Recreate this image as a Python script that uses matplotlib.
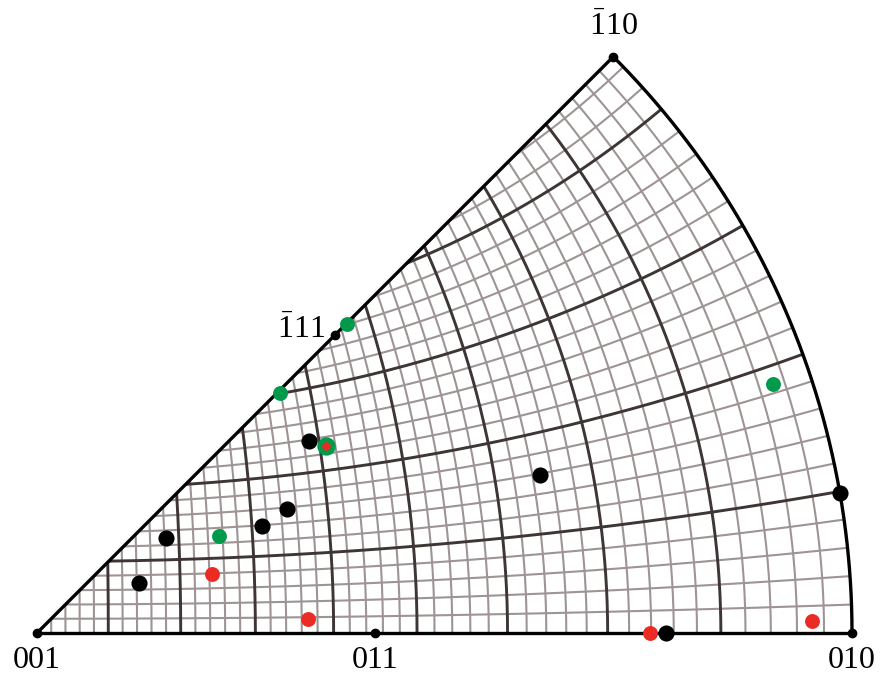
import numpy as np
import matplotlib.pyplot as plt
from matplotlib.path import Path
from matplotlib.patches import PathPatch

plt.rcParams['font.family'] = 'Liberation Serif'
plt.rcParams['mathtext.fontset'] = 'custom'
plt.rcParams['mathtext.rm'] = 'Liberation Serif'

# pole positions in the stereographic triangle (unit = primitive radius)
black_x = [0.334, 0.617, 0.307, 0.276, 0.158, 0.125, 0.772, 0.985]
black_y = [0.236, 0.194, 0.152, 0.131, 0.117, 0.061, 0.000, 0.172]

green_x = [0.380, 0.298, 0.223, 0.903]
green_y = [0.379, 0.295, 0.119, 0.306]

red_x = [0.215, 0.333, 0.752, 0.951]
red_y = [0.072, 0.017, 0.000, 0.015]

# red pole sitting inside a green ring
ring_x = [0.355]
ring_y = [0.229]

corner_labels = ['001', '011', '010', r'$\bar{1}$10', r'$\bar{1}$11']

# figure: 001 at pixel (37, 633), primitive radius 815 px
W, H = 882, 680
R = 815.0
fig = plt.figure(figsize=(W / 100, H / 100), dpi=100)
ax = fig.add_axes([0, 0, 1, 1])
ax.set_xlim(-37 / R, (W - 37) / R)
ax.set_ylim(-(H - 633) / R, 633 / R)
ax.set_aspect('equal')
ax.axis('off')

# sector 001 - 010 - -110
t = np.linspace(0, np.pi / 4, 200)
verts = [(0, 0)] + list(zip(np.cos(t), np.sin(t))) + [(0, 0)]
codes = [Path.MOVETO] + [Path.LINETO] * (len(verts) - 2) + [Path.CLOSEPOLY]
clip = PathPatch(Path(verts, codes), facecolor='none', edgecolor='none')
ax.add_patch(clip)

def wulff(lam, phi):
    lam = np.radians(lam)
    phi = np.radians(phi)
    d = 1 + np.cos(phi) * np.cos(lam)
    return np.cos(phi) * np.sin(lam) / d, np.sin(phi) / d

# Wulff net, 2 deg lines, every 10 deg darker
s = np.linspace(0, 90, 400)
for a in range(2, 90, 2):
    if a % 10 == 0:
        c, lw, z = '#3e3535', 2.1, 2
    else:
        c, lw, z = '#9e9494', 1.5, 1
    x, y = wulff(a, s)   # meridian
    ln, = ax.plot(x, y, color=c, lw=lw, zorder=z, solid_capstyle='butt')
    ln.set_clip_path(clip)
    x, y = wulff(s, a)   # latitude circle
    ln, = ax.plot(x, y, color=c, lw=lw, zorder=z, solid_capstyle='butt')
    ln.set_clip_path(clip)

# outline
ax.plot(np.cos(t), np.sin(t), color='black', lw=2.4, zorder=5)
ax.plot([0, 1], [0, 0], color='black', lw=2.4, zorder=5)
ax.plot([0, np.cos(np.pi / 4)], [0, np.sin(np.pi / 4)], color='black', lw=2.4, zorder=5)

# corner poles
r111 = np.tan(np.arccos(1 / np.sqrt(3)) / 2)
px = [0, np.tan(np.pi / 8), 1, np.cos(np.pi / 4), r111 * np.cos(np.pi / 4)]
py = [0, 0, 0, np.sin(np.pi / 4), r111 * np.sin(np.pi / 4)]
ax.plot(px, py, 'o', color='black', ms=6, zorder=6)

# data
ax.scatter(green_x, green_y, s=115, color='#009a4a', zorder=7, linewidths=0)
ax.scatter(ring_x, ring_y, s=175, color='#009a4a', zorder=7, linewidths=0)
ax.scatter(red_x, red_y, s=115, color='#ec2b25', zorder=8, linewidths=0)
ax.scatter(black_x, black_y, s=135, color='black', zorder=9, linewidths=0)
ax.scatter(ring_x, ring_y, s=38, color='#ec2b25', zorder=10, linewidths=0)

# labels
fs = 23
ax.text(px[0], -28 / R, corner_labels[0], fontsize=fs, ha='center', va='center')
ax.text(px[1], -28 / R, corner_labels[1], fontsize=fs, ha='center', va='center')
ax.text(px[2], -28 / R, corner_labels[2], fontsize=fs, ha='center', va='center')
ax.text(px[3], py[3] + 30 / R, corner_labels[3], fontsize=fs, ha='center', va='center')
ax.text(px[4] - 10 / R, py[4] + 5 / R, corner_labels[4], fontsize=fs, ha='right', va='center')

fig.savefig('out.png', dpi=100)
